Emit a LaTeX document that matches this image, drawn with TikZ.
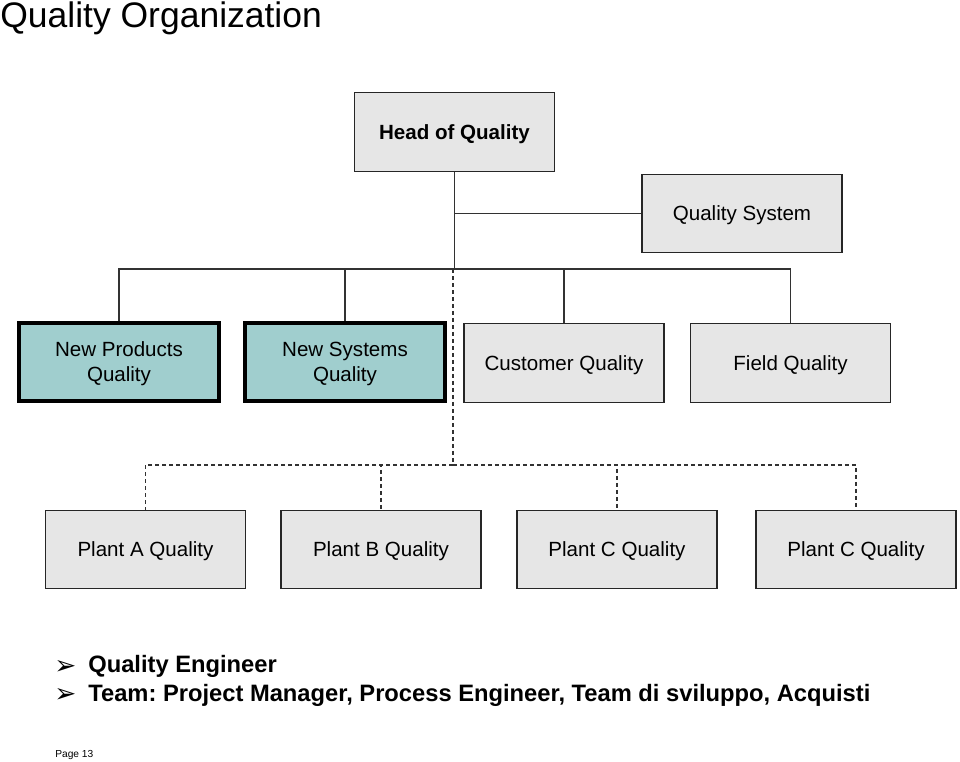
\documentclass[tikz,border=0pt]{standalone}
\usepackage{fontspec}
\setmainfont{Liberation Sans}
\newfontfamily\symfont{DejaVu Sans}
\usepackage{tikz}
\usepackage{color}
\definecolor{boxgray}{RGB}{230,230,230}
\definecolor{boxteal}{RGB}{160,206,206}
\definecolor{linegray}{RGB}{50,50,50}
\frenchspacing

\begin{document}
\begin{tikzpicture}[x=0.02cm, y=-0.02cm,
  box/.style={draw=black!85, fill=boxgray, line width=0.8pt, minimum width=4cm,
    minimum height=1.57cm, inner sep=0pt, text depth=0pt, align=center,
    font=\fontsize{11.7}{14.2}\selectfont},
  newbox/.style={box, fill=boxteal, draw=black, line width=2.3pt},
  link/.style={draw=linegray, line width=0.8pt},
  dlink/.style={link, dash pattern=on 0.08cm off 0.06cm},
  arrowmark/.style={anchor=base west, inner sep=0pt, font=\symfont\fontsize{15}{16}\selectfont},
  bullet/.style={anchor=base west, inner sep=0pt, font=\fontsize{13.5}{16}\selectfont\bfseries}]
\useasboundingbox (0,0) rectangle (960,761);
\node (title) at (0,27) [anchor=base west, inner sep=0pt, font=\fontsize{20.2}{24}\selectfont] {Quality Organization};
\node (head) at (454.5,132) [box, font=\fontsize{11.7}{14.2}\selectfont\bfseries] {Head of Quality};
\node (qsys) at (742,213.5) [box] {Quality System};
\node (npq)  at (119,362)   [newbox] {New Products\\Quality};
\node (nsq)  at (345,362)   [newbox] {New Systems\\Quality};
\node (cq)   at (564,363)   [box] {Customer Quality};
\node (fq)   at (790.5,363) [box] {Field Quality};
\node (pa)   at (145.5,549.5) [box] {Plant A Quality};
\node (pb)   at (381,549.5) [box] {Plant B Quality};
\node (pc)   at (617,549.5) [box] {Plant C Quality};
\node (pd)   at (856,549.5) [box] {Plant C Quality};
\coordinate (bus)  at (454.5,269);
\coordinate (dtop) at (453,269);
\coordinate (dbus) at (453,465);
\draw[link] (head) |- (qsys);
\draw[link] (head) -- (bus);
\draw[link] (bus) -| (npq)  (bus) -| (nsq)  (bus) -| (cq)  (bus) -| (fq);
\draw[dlink] (dtop) -- (dbus);
\draw[dlink] (dbus) -| (pa)  (dbus) -| (pb);
\draw[dlink] (dbus) -| (pc)  (dbus) -| (pd);
\node (a1) at (54,674) [arrowmark] {➢};
\node (b1) at (88,672.7) [bullet] {Quality Engineer};
\node (a2) at (54,702.5) [arrowmark] {➢};
\node (b2) at (88,701)   [bullet] {Team: Project Manager, Process Engineer, Team di sviluppo, Acquisti};
\node (page) at (55,757) [anchor=base west, inner sep=0pt, font=\fontsize{5.8}{7}\selectfont] {Page 13};
\end{tikzpicture}
\end{document}
